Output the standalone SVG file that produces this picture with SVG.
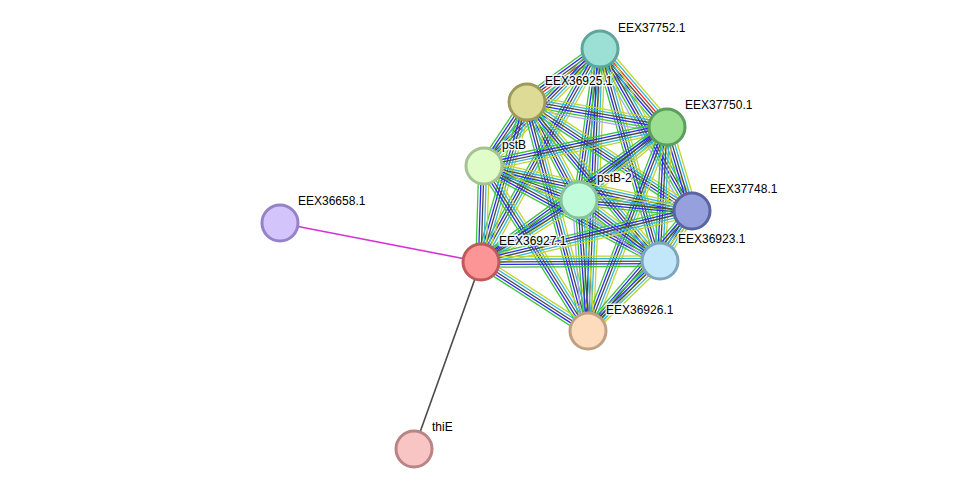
<svg xmlns="http://www.w3.org/2000/svg" xmlns:xlink="http://www.w3.org/1999/xlink" width="976" height="494" viewBox="0 0 976 494">
<style>
.n{stroke-width:3}
.t{font-family:"Liberation Sans",Arial,sans-serif;font-size:12px;fill:#000;stroke:#fff;stroke-width:3;stroke-opacity:0.85;paint-order:stroke;stroke-linejoin:round}
.l{stroke-width:1.3;fill:none}
.yg{stroke:#c2d42c}.cy{stroke:#33b8d8}.bk{stroke:#4a4a4a}.bl{stroke:#2a2aee}.gr{stroke:#3cc43c}.rd{stroke:#ee2020}.lv{stroke:#a6a6ff}
</style>
<defs>
<g id="b5">
<line class="l yg" x1="0" y1="-5.2" x2="100" y2="-5.2"/>
<line class="l cy" x1="0" y1="-2.6" x2="100" y2="-2.6"/>
<line class="l bk" x1="0" y1="0" x2="100" y2="0"/>
<line class="l bl" x1="0" y1="2.6" x2="100" y2="2.6"/>
<line class="l gr" x1="0" y1="5.2" x2="100" y2="5.2"/>
</g>
<g id="b6r">
<line class="l yg" x1="0" y1="-6.5" x2="100" y2="-6.5"/>
<line class="l cy" x1="0" y1="-3.9" x2="100" y2="-3.9"/>
<line class="l rd" x1="0" y1="-1.3" x2="100" y2="-1.3"/>
<line class="l bk" x1="0" y1="1.3" x2="100" y2="1.3"/>
<line class="l bl" x1="0" y1="3.9" x2="100" y2="3.9"/>
<line class="l gr" x1="0" y1="6.5" x2="100" y2="6.5"/>
</g>
<g id="b6l">
<line class="l yg" x1="0" y1="-6.5" x2="100" y2="-6.5"/>
<line class="l cy" x1="0" y1="-3.9" x2="100" y2="-3.9"/>
<line class="l bk" x1="0" y1="-1.3" x2="100" y2="-1.3"/>
<line class="l bl" x1="0" y1="1.3" x2="100" y2="1.3"/>
<line class="l gr" x1="0" y1="3.9" x2="100" y2="3.9"/>
<line class="l lv" x1="0" y1="6.5" x2="100" y2="6.5"/>
</g>
</defs>
<g id="connectors">
<line x1="280" y1="223" x2="481" y2="262" stroke="#d633d6" stroke-width="1.6"/>
<line x1="414" y1="449" x2="481" y2="262" stroke="#4a4a4a" stroke-width="1.6"/>
<use xlink:href="#b6r" transform="translate(600 49) rotate(144.0) scale(0.902 1)"/>
<use xlink:href="#b6r" transform="translate(600 49) rotate(49.3) scale(1.028 1)"/>
<use xlink:href="#b5" transform="translate(600 49) rotate(134.8) scale(1.648 1)"/>
<use xlink:href="#b5" transform="translate(600 49) rotate(97.9) scale(1.525 1)"/>
<use xlink:href="#b6l" transform="translate(600 49) rotate(60.4) scale(1.863 1)"/>
<use xlink:href="#b5" transform="translate(600 49) rotate(119.2) scale(2.44 1)"/>
<use xlink:href="#b5" transform="translate(600 49) rotate(74.2) scale(2.203 1)"/>
<use xlink:href="#b5" transform="translate(600 49) rotate(92.4) scale(2.823 1)"/>
<use xlink:href="#b6l" transform="translate(527 102) rotate(10.1) scale(1.422 1)"/>
<use xlink:href="#b5" transform="translate(527 102) rotate(123.9) scale(0.771 1)"/>
<use xlink:href="#b5" transform="translate(527 102) rotate(62.05) scale(1.109 1)"/>
<use xlink:href="#b5" transform="translate(527 102) rotate(33.45) scale(1.978 1)"/>
<use xlink:href="#b5" transform="translate(527 102) rotate(106.0) scale(1.665 1)"/>
<use xlink:href="#b5" transform="translate(527 102) rotate(50.1) scale(2.073 1)"/>
<use xlink:href="#b5" transform="translate(527 102) rotate(75.1) scale(2.37 1)"/>
<use xlink:href="#b5" transform="translate(667 127) rotate(168.0) scale(1.871 1)"/>
<use xlink:href="#b5" transform="translate(667 127) rotate(140.3) scale(1.143 1)"/>
<use xlink:href="#b5" transform="translate(667 127) rotate(73.4) scale(0.876 1)"/>
<use xlink:href="#b5" transform="translate(667 127) rotate(144.0) scale(2.298 1)"/>
<use xlink:href="#b5" transform="translate(667 127) rotate(93.0) scale(1.342 1)"/>
<use xlink:href="#b5" transform="translate(667 127) rotate(111.2) scale(2.188 1)"/>
<use xlink:href="#b5" transform="translate(484 166) rotate(19.7) scale(1.009 1)"/>
<use xlink:href="#b5" transform="translate(484 166) rotate(12.2) scale(2.128 1)"/>
<use xlink:href="#b5" transform="translate(484 166) rotate(91.8) scale(0.96 1)"/>
<use xlink:href="#b5" transform="translate(484 166) rotate(28.4) scale(2.0 1)"/>
<use xlink:href="#b5" transform="translate(484 166) rotate(57.8) scale(1.95 1)"/>
<use xlink:href="#b5" transform="translate(579 200) rotate(5.56) scale(1.135 1)"/>
<use xlink:href="#b5" transform="translate(579 200) rotate(147.7) scale(1.16 1)"/>
<use xlink:href="#b6l" transform="translate(579 200) rotate(37.0) scale(1.014 1)"/>
<use xlink:href="#b6l" transform="translate(579 200) rotate(86.1) scale(1.313 1)"/>
<use xlink:href="#b5" transform="translate(692 211) rotate(166.4) scale(2.171 1)"/>
<use xlink:href="#b5" transform="translate(692 211) rotate(122.6) scale(0.594 1)"/>
<use xlink:href="#b5" transform="translate(692 211) rotate(130.9) scale(1.588 1)"/>
<use xlink:href="#b5" transform="translate(481 262) rotate(-0.3) scale(1.79 1)"/>
<use xlink:href="#b5" transform="translate(481 262) rotate(32.8) scale(1.273 1)"/>
<use xlink:href="#b5" transform="translate(660 261) rotate(135.8) scale(1.004 1)"/>
</g>
<g id="EEX37752.1"><circle class="n" cx="600" cy="49" r="18" fill="#9bdfd5" stroke="#5ea59c"/><text class="t" x="618" y="32">EEX37752.1</text></g>
<g id="EEX36925.1"><circle class="n" cx="527" cy="102" r="18" fill="#dedb96" stroke="#9e9a5c"/><text class="t" x="545" y="85">EEX36925.1</text></g>
<g id="EEX37750.1"><circle class="n" cx="667" cy="127" r="18" fill="#9cde92" stroke="#5c9e5c"/><text class="t" x="685" y="109">EEX37750.1</text></g>
<g id="pstB"><circle class="n" cx="484" cy="166" r="18" fill="#e0fcc8" stroke="#a4c292"/><text class="t" x="502" y="149">pstB</text></g>
<g id="pstB-2"><circle class="n" cx="579" cy="200" r="18" fill="#c0fcdc" stroke="#86c29e"/><text class="t" x="597" y="182">pstB-2</text></g>
<g id="EEX37748.1"><circle class="n" cx="692" cy="211" r="18" fill="#96a0dc" stroke="#5a64a0"/><text class="t" x="710" y="193">EEX37748.1</text></g>
<g id="EEX36658.1"><circle class="n" cx="280" cy="223" r="18" fill="#d4c4fc" stroke="#9682c8"/><text class="t" x="298" y="205">EEX36658.1</text></g>
<g id="EEX36927.1"><circle class="n" cx="481" cy="262" r="18" fill="#fc9696" stroke="#c05a5a"/><text class="t" x="499" y="245">EEX36927.1</text></g>
<g id="EEX36923.1"><circle class="n" cx="660" cy="261" r="18" fill="#c2e6fa" stroke="#7ea6be"/><text class="t" x="678" y="243">EEX36923.1</text></g>
<g id="EEX36926.1"><circle class="n" cx="588" cy="331" r="18" fill="#fcdcbc" stroke="#c0a082"/><text class="t" x="606" y="314">EEX36926.1</text></g>
<g id="thiE"><circle class="n" cx="414" cy="449" r="18" fill="#f8c4c4" stroke="#b88484"/><text class="t" x="432" y="431">thiE</text></g>
</svg>
